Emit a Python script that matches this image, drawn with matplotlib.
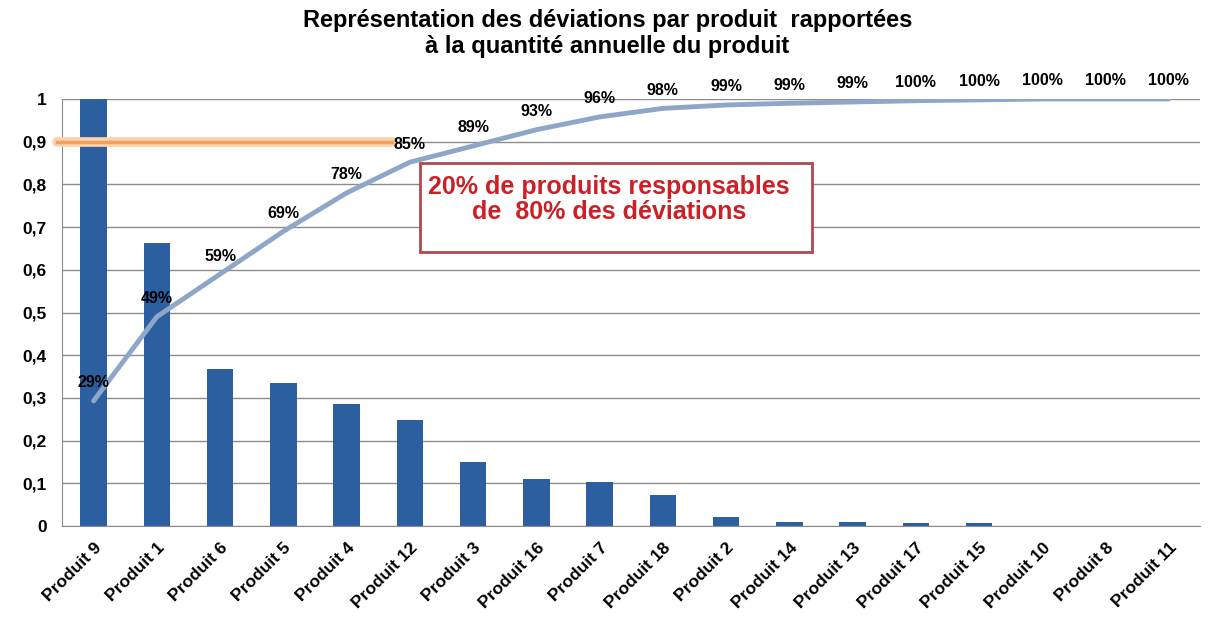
import numpy as np
import matplotlib.pyplot as plt
from matplotlib.patches import Rectangle

plt.rcParams['font.family'] = ['Liberation Sans', 'DejaVu Sans']

produits = ['Produit 9', 'Produit 1', 'Produit 6', 'Produit 5', 'Produit 4', 'Produit 12',
            'Produit 3', 'Produit 16', 'Produit 7', 'Produit 18', 'Produit 2', 'Produit 14',
            'Produit 13', 'Produit 17', 'Produit 15', 'Produit 10', 'Produit 8', 'Produit 11']
deviations = [1.0, 0.663, 0.368, 0.335, 0.286, 0.248, 0.150, 0.110, 0.103, 0.073,
              0.021, 0.009, 0.009, 0.007, 0.007, 0.0, 0.0, 0.0]
cumul = [0.293, 0.49, 0.59, 0.69, 0.78, 0.852, 0.89, 0.928, 0.958, 0.978,
         0.986, 0.99, 0.993, 0.996, 0.998, 1.0, 1.0, 1.0]
seuil = 0.9

fig = plt.figure(figsize=(12.15, 6.25), dpi=100)
ax = fig.add_axes([0.051, 0.1584, 0.937, 0.6832])

x = np.arange(len(produits))
ax.bar(x, deviations, width=0.42, color='#2c5fa0', zorder=2)
ax.plot(x, cumul, color='#8ea6c8', lw=3.5, zorder=3, solid_capstyle='round')
for xi, c in zip(x, cumul):
    ax.annotate(f'{c:.0%}', (xi, c), xytext=(0, 13), textcoords='offset points',
                ha='center', va='center', fontsize=11.5, fontweight='bold',
                annotation_clip=False, zorder=4)

# ligne du seuil 0,9
ax.plot([-0.58, 4.72], [seuil, seuil], color='#fbd3ad', lw=7, zorder=3,
        solid_capstyle='round', clip_on=False)
ax.plot([-0.58, 4.72], [seuil, seuil], color='#f2a05c', lw=2.5, zorder=3, clip_on=False)

ax.add_patch(Rectangle((0.3146, 0.6417), 0.3444, 0.2083, transform=ax.transAxes,
                       fc='white', ec='#b04a4a', lw=2, zorder=5))
ax.text(0.4807, 0.765, '20% de produits responsables\nde  80% des déviations',
        transform=ax.transAxes, ha='center', va='center', fontsize=18,
        fontweight='bold', color='#cc2027', linespacing=1.05, zorder=6)

ax.set_xlim(-0.5, len(produits) - 0.5)
ax.set_ylim(0, 1)
yt = np.arange(0, 1.01, 0.1)
ax.set_yticks(yt)
ax.set_yticklabels(['0' if v == 0 else '1' if v == 1 else f'{v:.1f}'.replace('.', ',')
                    for v in yt], fontsize=12.5, fontweight='bold')
ax.set_xticks(x)
ax.set_xticklabels(produits, rotation=45, ha='right', rotation_mode='anchor',
                   fontsize=12.5, fontweight='bold')
ax.tick_params(axis='y', length=0, pad=11)
ax.tick_params(axis='x', length=0, pad=10)
ax.yaxis.grid(True, color='#8c8c8c', lw=1)
ax.set_axisbelow(True)
for s in ['top', 'right']:
    ax.spines[s].set_visible(False)
ax.spines['left'].set_color('#8c8c8c')
ax.spines['bottom'].set_color('#8c8c8c')

fig.text(0.5, 0.946, 'Représentation des déviations par produit  rapportées\nà la quantité annuelle du produit',
         ha='center', va='center', fontsize=17, fontweight='bold', linespacing=1.15)

fig.savefig('out.png', dpi=100)
